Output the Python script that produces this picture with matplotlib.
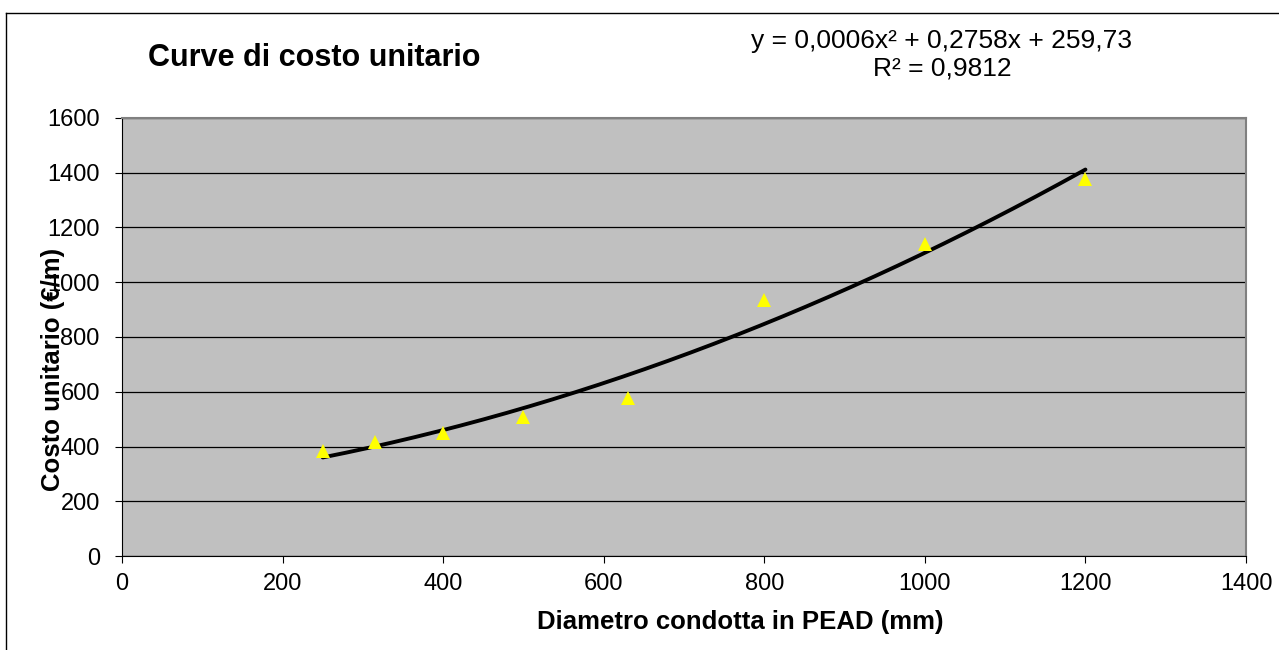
import numpy as np
import matplotlib.pyplot as plt
from matplotlib.lines import Line2D

plt.rcParams['font.family'] = ['Liberation Sans', 'DejaVu Sans']

# data
diametri = [250, 315, 400, 500, 630, 800, 1000, 1200]
costi = [385, 415, 450, 508, 578, 935, 1140, 1378]

x_ticks = [0, 200, 400, 600, 800, 1000, 1200, 1400]
y_ticks = [0, 200, 400, 600, 800, 1000, 1200, 1400, 1600]

titolo = 'Curve di costo unitario'
equazione = 'y = 0,0006x² + 0,2758x + 259,73\nR² = 0,9812'

fig = plt.figure(figsize=(12.79, 6.5), dpi=100)
ax = fig.add_axes([0.0954, 0.1446, 0.8788, 0.6739])
ax.set_facecolor('#C0C0C0')

# polynomial trend line (2nd order) fitted on the points
coef = np.polyfit(diametri, costi, 2)
xs = np.linspace(min(diametri), max(diametri), 200)
ax.plot(xs, np.polyval(coef, xs), color='black', lw=2.8, zorder=3,
        solid_capstyle='round')

ax.plot(diametri, costi, linestyle='none', marker='^', markersize=10,
        color='#FFFF00', markeredgewidth=0, zorder=4)

ax.set_xlim(0, 1400)
ax.set_ylim(0, 1600)
ax.set_xticks(x_ticks)
ax.set_yticks(y_ticks)
ax.yaxis.grid(True, color='black', lw=0.9)
ax.set_axisbelow(True)
ax.tick_params(direction='out', length=5, width=0.8, labelsize=17,
               colors='black')
ax.tick_params(axis='y', pad=11)
ax.tick_params(axis='x', pad=7)
for s in ax.spines.values():
    s.set_color('#808080')
    s.set_linewidth(1.5)
ax.spines['left'].set_color('black')
ax.spines['left'].set_linewidth(0.8)
ax.spines['bottom'].set_color('black')
ax.spines['bottom'].set_linewidth(0.8)

ax.set_xlabel('Diametro condotta in PEAD (mm)', fontsize=18.5,
              fontweight='bold', va='center')
ax.xaxis.set_label_coords(0.55, -0.151)
ax.set_ylabel('Costo unitario (€/m)', fontsize=18.5, fontweight='bold',
              va='center')
ax.yaxis.set_label_coords(-0.061, 0.425)

fig.text(148 / 1279, 1 - 58 / 650, titolo, fontsize=22, fontweight='bold',
         va='center', ha='left')
fig.text(942 / 1279, 1 - 55 / 650, equazione, fontsize=19,
         va='center', ha='center', linespacing=1.2)

# chart frame (left and top edges visible)
fig.add_artist(Line2D([6 / 1279, 6 / 1279], [0, 1 - 13 / 650],
                      transform=fig.transFigure, color='black', lw=1))
fig.add_artist(Line2D([6 / 1279, 1], [1 - 13 / 650, 1 - 13 / 650],
                      transform=fig.transFigure, color='black', lw=1))

fig.savefig('out.png', dpi=100)
